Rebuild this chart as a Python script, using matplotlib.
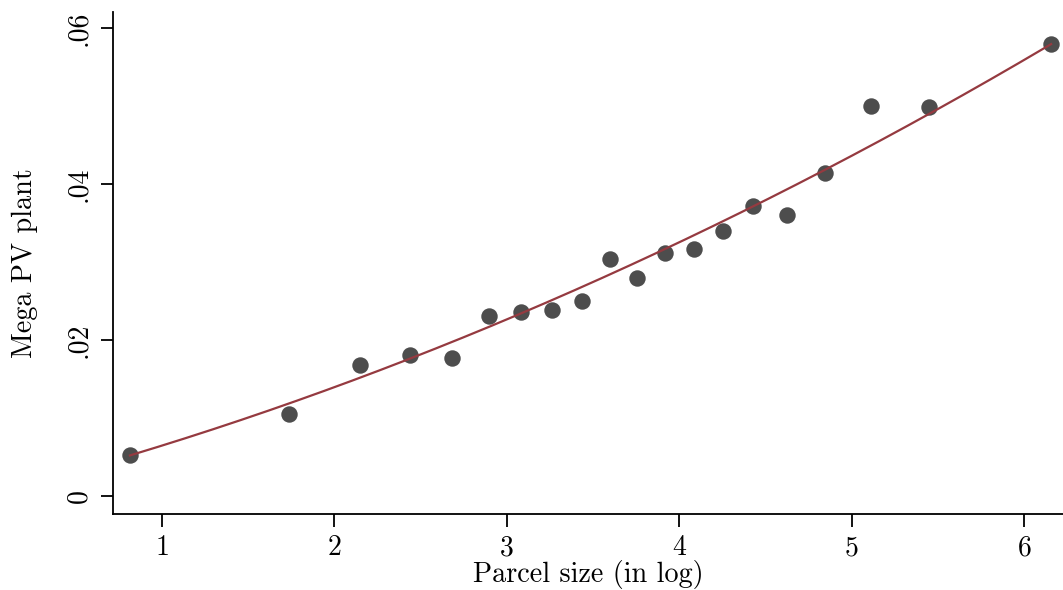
import numpy as np
import matplotlib.pyplot as plt

plt.rcParams['font.family'] = ['cmr10', 'DejaVu Serif']
plt.rcParams['axes.formatter.use_mathtext'] = True

# binned means: log parcel size vs share of mega PV plants
parcel_log = [0.814, 1.737, 2.148, 2.438, 2.682, 2.897, 3.082, 3.262, 3.436, 3.599,
              3.755, 3.918, 4.086, 4.254, 4.428, 4.625, 4.846, 5.112, 5.449, 6.157]
mega_pv = [0.00526, 0.01051, 0.0168, 0.0181, 0.0177, 0.0231, 0.0236, 0.0238, 0.0250, 0.0304,
           0.0279, 0.0312, 0.0317, 0.0340, 0.0372, 0.0360, 0.0414, 0.0500, 0.0499, 0.0579]

# points
fit_x = [0.822, 1.452, 1.682, 2.031, 2.495, 3.016, 3.538, 3.673, 3.918, 4.426, 4.845, 5.440, 5.681, 6.145]
fit_y = [0.00519, 0.00946, 0.01151, 0.01451, 0.01814, 0.02305, 0.02767, 0.02904, 0.0314, 0.03724,
         0.04151, 0.04933, 0.05169, 0.05776]

xticks = [1, 2, 3, 4, 5, 6]
yticks = [0, 0.02, 0.04, 0.06]
ytick_labels = ['0', '.02', '.04', '.06']

x = np.array(parcel_log)
y = np.array(mega_pv)

# smooth quadratic through the read fit-line points, over the bin range
coef = np.polyfit(fit_x, fit_y, 2)
xf = np.linspace(x.min(), x.max(), 200)
yf = np.polyval(coef, xf)

fig = plt.figure(figsize=(10.63, 5.90), dpi=100)
ax = fig.add_axes([0.1063, 0.1288, 0.8937, 0.8509])

ax.scatter(x, y, s=140, color='#4d4d4d', zorder=3, linewidths=0)
ax.plot(xf, yf, color='#953a40', lw=1.6, zorder=4)

ax.set_xlim(0.716, 6.226)
ax.set_ylim(-0.00231, 0.06205)
ax.set_xticks(xticks)
ax.set_yticks(yticks)
ax.set_yticklabels(ytick_labels, rotation=90, va='center')

for s in ['top', 'right']:
    ax.spines[s].set_visible(False)
for s in ['left', 'bottom']:
    ax.spines[s].set_linewidth(1.3)
ax.tick_params(direction='out', length=9, width=1.3, labelsize=20, pad=6)

ax.set_xlabel('Parcel size (in log)', fontsize=20.3, labelpad=-1)
ax.set_ylabel('Mega PV plant', fontsize=20.3, labelpad=20)

fig.savefig('out.png', dpi=100)
